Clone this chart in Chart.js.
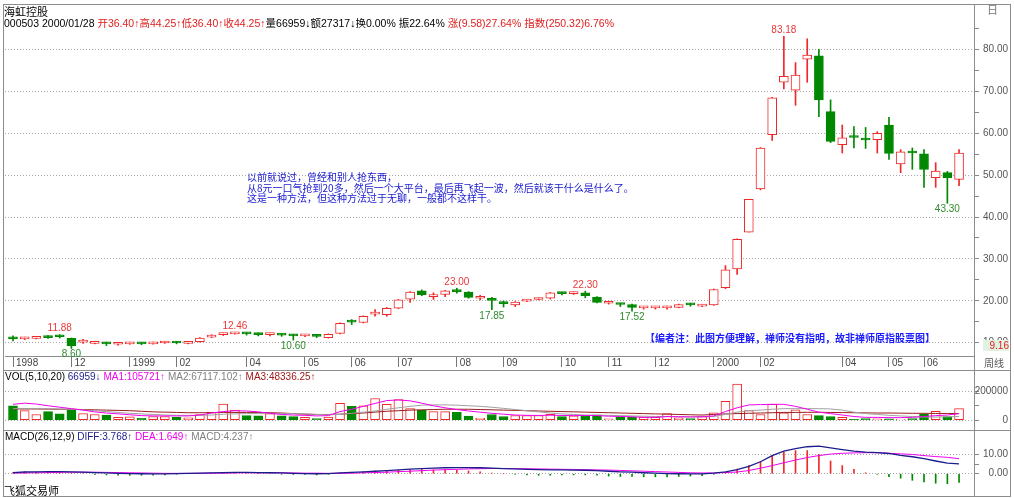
<!DOCTYPE html>
<html>
<head>
<meta charset="utf-8">
<script src="https://cdn.jsdelivr.net/npm/chart.js@4.4.0/dist/chart.umd.min.js"></script>
<style>
body{margin:0;background:#fff;width:1014px;height:498px;overflow:hidden;position:relative;
  font-family:'Liberation Sans','Noto Sans CJK SC',sans-serif;}
canvas{position:absolute;left:0;}
.t{position:absolute;white-space:nowrap;font-size:10px;line-height:12px;color:#000;}
.ln{position:absolute;background:#8c8c8c;}
.r{color:#e02020}
.nv{color:#1c1c8c}
.mg{color:#f000f0}
.gy{color:#808080}
.dr{color:#a01818}
.note{position:absolute;white-space:nowrap;font-family:'Noto Sans CJK SC',sans-serif;font-size:10px;line-height:10.5px;color:#1a1ad0;}
</style>
</head>
<body>
<canvas id="price" width="1014" height="370" style="top:0"></canvas>
<canvas id="vol" width="1014" height="60" style="top:370px"></canvas>
<canvas id="macd" width="1014" height="68" style="top:430px"></canvas>

<div class="ln" style="left:3px;top:4px;width:1008px;height:1px"></div>
<div class="ln" style="left:3px;top:4px;width:1px;height:492px"></div>
<div class="ln" style="left:1010px;top:4px;width:1px;height:492px"></div>
<div class="ln" style="left:3px;top:496px;width:1008px;height:1px"></div>
<div class="ln" style="left:974px;top:4px;width:1px;height:492px"></div>
<div class="ln" style="left:3px;top:370px;width:1008px;height:1px"></div>
<div class="ln" style="left:3px;top:430px;width:1008px;height:1px"></div>

<div class="t" style="left:4px;top:5px;font-family:'Noto Sans CJK SC';font-size:11px">海虹控股</div>
<div class="t" style="left:4px;top:17px;font-size:10.5px">000503 2000/01/28 <span class="r">开36.40↑高44.25↑低36.40↑收44.25↑</span>量66959↓额27317↓换0.00% 振22.64% <span class="r">涨(9.58)27.64% 指数(250.32)6.76%</span></div>
<div class="t" style="left:987px;top:3px;color:#777;font-family:'Noto Sans CJK SC';font-size:11px">日</div>
<div class="t" style="left:983px;top:340px;width:26px;height:11px;line-height:11px;background:#e2f2e2;color:#e02020;text-align:right">9.16</div>
<div class="t" style="left:984px;top:357px;color:#555;font-family:'Noto Sans CJK SC'">周线</div>

<div class="note" style="left:247px;top:172px">以前就说过，曾经和别人抢东西，<br>从8元一口气抢到20多，然后一个大平台，最后再飞起一波，然后就该干什么是什么了。<br>这是一种方法，但这种方法过于无聊，一般都不这样干。</div>
<div class="note" style="left:645px;top:333px;font-weight:bold;color:#1a1aff">【编者注：此图方便理解，禅师没有指明，故非禅师原指股票图】</div>

<div class="t" style="left:5px;top:371px">VOL(5,10,20) <span class="nv">66959↓</span> <span class="mg">MA1:105721↑</span> <span class="gy">MA2:67117.102↑</span> <span class="dr">MA3:48336.25↑</span></div>
<div class="t" style="left:5px;top:431px">MACD(26,12,9) <span class="nv">DIFF:3.768↑</span> <span class="mg">DEA:1.649↑</span> <span class="gy">MACD:4.237↑</span></div>
<div class="t" style="left:4px;top:484px;font-family:'Noto Sans CJK SC';font-size:11px">飞狐交易师</div>

<script>
// weekly bars, 1998 -> 2000/06
var openP = [11.4,10.9,11.0,11.4,11.6,11.0,10.1,9.8,10.0,9.6,
  9.7,9.9,9.7,9.9,10.2,9.8,10.2,11.3,11.9,12.1,
  12.3,12.1,11.9,12.0,11.8,11.6,11.7,11.2,12.2,15.2,
  14.8,16.8,16.7,18.2,20.4,22.4,21.0,21.5,22.4,22.1,
  20.6,20.6,19.7,19.0,19.9,20.3,20.6,21.9,21.7,21.9,
  20.9,19.4,19.3,19.1,18.3,18.3,18.3,18.4,19.2,18.7,
  19.0,23.1,27.6,36.4,46.7,59.7,72.2,70.3,77.7,78.5,
  65.2,57.3,59.3,58.6,58.5,62.0,52.7,55.6,55.1,49.4,
  50.6,49.0];
var highP = [11.6,11.3,11.5,11.7,11.88,11.1,10.8,10.2,10.1,10.0,
  10.1,10.0,10.1,10.3,10.3,10.1,11.2,11.9,12.3,12.46,
  12.4,12.3,12.3,12.2,12.0,12.0,11.9,12.1,14.7,15.5,
  16.4,17.9,18.4,20.3,22.2,22.6,21.9,22.5,23.0,22.2,
  21.3,20.8,19.9,19.8,20.3,20.6,22.0,22.0,22.1,22.3,
  21.0,19.7,19.4,19.2,18.6,18.6,18.7,19.2,19.4,19.1,
  22.8,28.4,34.8,44.25,56.6,68.6,83.18,76.9,82.6,80.1,
  68.0,62.0,61.6,61.4,60.4,63.8,56.1,56.5,56.1,53.0,
  50.9,56.1];
var lowP = [10.4,10.7,10.9,11.0,11.1,8.6,9.8,9.7,9.3,9.4,
  9.6,9.5,9.6,9.8,9.7,9.7,10.1,11.2,11.7,12.0,
  11.8,11.6,11.6,11.5,10.6,11.4,11.2,11.1,12.1,14.3,
  14.7,16.3,16.3,18.1,19.6,21.2,20.3,21.0,21.8,20.6,
  20.2,17.85,18.5,18.6,19.8,20.2,20.4,21.4,21.5,20.7,
  19.5,19.2,18.6,17.52,18.0,18.0,18.0,18.3,18.7,18.6,
  18.9,22.9,26.3,36.4,46.5,58.3,70.6,66.7,72.2,64.0,
  57.8,55.3,56.5,56.4,55.3,53.8,50.6,51.4,47.1,47.1,
  43.3,47.5];
var closeP = [10.9,11.1,11.3,11.2,11.4,9.2,10.3,10.1,9.7,9.8,
  9.9,9.7,9.9,10.1,9.9,10.0,11.1,11.7,12.1,12.4,
  12.1,11.9,12.0,11.8,11.6,11.8,11.5,12.0,14.6,14.9,
  16.3,17.3,18.2,20.2,22.1,21.4,21.4,22.4,22.2,20.8,
  21.0,20.1,19.3,19.7,20.1,20.5,21.9,21.7,21.9,21.2,
  19.6,19.5,19.1,18.4,18.4,18.4,18.4,19.1,19.0,18.9,
  22.7,27.4,34.7,44.25,56.5,68.5,73.6,73.9,78.7,68.0,
  58.1,58.9,59.0,58.4,60.0,55.2,55.6,55.3,51.4,51.0,
  49.4,55.3];

var volume = [100000,66000,40000,60000,44000,72000,46000,40000,36000,20000,
  24000,14000,26000,26000,20000,16000,40000,56000,112000,70000,
  32000,30000,46000,30000,26000,20000,12000,22000,116000,96000,
  100000,150000,110000,142000,80000,70000,60000,60000,55000,28000,
  15000,40000,26000,33000,33000,33000,41000,26000,30000,33000,
  37000,10000,20000,20000,20000,20000,46000,16000,12000,26000,
  52000,130000,250000,66959,40000,110000,52000,72000,40000,32000,
  26000,20000,6000,12000,10000,10000,6000,12000,42000,62000,
  26000,80000];
var volMA1 = [110000,118000,112000,100000,90000,80000,70000,58000,50000,44000,
  38000,32000,30000,30000,30000,30000,36000,50000,60000,66000,
  64000,58000,48000,40000,36000,34000,30000,32000,60000,76000,
  96000,116000,136000,140000,134000,118000,100000,86000,74000,64000,
  56000,48000,42000,36000,34000,33000,35000,33000,32000,33000,
  32000,28000,26000,24000,20000,20000,25000,24000,23000,24000,
  30000,60000,86000,105721,108000,110000,110000,96000,76000,56000,
  46000,36000,26000,20000,20000,18000,18000,20000,26000,32000,
  36000,46000];
var volMA2 = [80000,80000,80000,80000,78000,76000,72000,66000,60000,54000,
  48000,44000,40000,36000,34000,34000,34000,36000,42000,44000,
  46000,46000,46000,46000,46000,44000,40000,38000,40000,48000,
  56000,64000,76000,86000,96000,104000,106000,106000,104000,100000,
  96000,90000,82000,74000,66000,58000,50000,44000,40000,36000,
  34000,34000,32000,30000,28000,26000,26000,25000,24000,24000,
  26000,40000,56000,67117,70000,76000,80000,80000,80000,80000,
  78000,70000,56000,46000,40000,34000,30000,26000,22000,22000,
  24000,26000];
var volMA3 = [78000,78000,78000,77000,76000,76000,74000,72000,70000,68000,
  66000,62000,58000,56000,54000,52000,52000,52000,54000,54000,
  54000,54000,52000,50000,46000,42000,40000,40000,42000,46000,
  50000,56000,62000,66000,70000,72000,74000,76000,76000,76000,
  74000,72000,70000,68000,66000,64000,62000,60000,58000,56000,
  54000,52000,50000,48000,46000,44000,42000,40000,38000,36000,
  40000,44000,46000,48336,50000,52000,54000,54000,55000,55000,
  54000,53000,52000,51000,50000,50000,49000,48000,48000,47000,
  47000,46000];

var diffLine = [0.6,0.9,1.0,1.1,1.1,1.0,0.8,0.6,0.4,0.2,
  0.1,0.0,-0.1,-0.1,0.1,0.2,0.3,0.4,0.6,0.7,
  0.7,0.6,0.5,0.4,0.2,0.1,0.0,0.1,0.4,0.7,
  1.0,1.3,1.6,2.0,2.4,2.7,2.9,3.1,3.2,3.2,
  3.1,2.9,2.7,2.5,2.3,2.1,2.0,2.0,1.9,1.8,
  1.6,1.3,1.0,0.8,0.5,0.3,0.1,0.0,-0.1,-0.1,
  0.3,1.0,2.1,3.768,6.2,9.4,11.7,13.0,14.0,14.3,
  13.4,12.5,11.7,11.2,10.9,10.5,9.5,8.8,7.8,6.6,
  5.5,5.1];
var deaLine = [0.3,0.4,0.5,0.6,0.7,0.8,0.8,0.8,0.7,0.6,
  0.5,0.4,0.3,0.2,0.2,0.2,0.2,0.3,0.3,0.4,
  0.5,0.5,0.5,0.5,0.4,0.3,0.3,0.2,0.2,0.3,
  0.5,0.6,0.8,1.1,1.3,1.6,1.9,2.1,2.3,2.5,
  2.6,2.7,2.7,2.6,2.6,2.5,2.4,2.3,2.2,2.1,
  2.0,1.9,1.7,1.5,1.3,1.1,0.9,0.7,0.5,0.4,
  0.4,0.6,0.9,1.649,2.9,4.2,5.7,7.1,8.4,9.4,
  10.2,10.6,10.8,10.9,10.9,10.6,10.3,10.0,9.4,8.9,
  8.5,7.8];
var macdBar = [0.6,1.0,1.0,1.0,0.8,0.4,0.0,-0.4,-0.6,-0.8,
  -0.8,-0.8,-0.8,-0.6,-0.2,0.0,0.2,0.2,0.6,0.6,
  0.4,0.2,0.0,-0.2,-0.4,-0.4,-0.6,-0.2,0.4,0.8,
  1.0,1.4,1.6,1.8,2.2,2.2,2.0,2.0,1.8,1.4,
  1.0,0.4,0.0,-0.2,-0.6,-0.8,-0.8,-0.6,-0.6,-0.6,
  -0.8,-1.2,-1.4,-1.4,-1.6,-1.6,-1.6,-1.4,-1.2,-1.0,
  -0.2,0.8,2.4,4.237,6.2,9.4,11.2,12.0,12.0,10.0,
  6.6,4.2,2.3,0.5,-0.3,-1.5,-2.3,-3.4,-4.2,-4.9,
  -5.2,-4.5];

var monthTicks = [0,5,10,14,20,25,29,33,38,42,47,51,55,60,64,71,75,78];
var monthLabels = ['1998','12','1999','02','04','05','06','07','08','09','10','11','12','2000','02','04','05','06'];
var priceTicks = [10,15,20,25,30,35,40,45,50,55,60,65,70,75,80,85];

// marked highs / lows
var markIdx = [4,5,19,24,38,41,49,53,66,80];
var markSide = ['H','L','H','L','H','L','H','L','H','L'];

var RED = '#f02828', GREEN = '#008800';
var X_MIN = -0.685, X_MAX = 82.28;
var idx = openP.map((v, i) => i);
var isUp = idx.map(i => closeP[i] >= openP[i]);

var axisFont = {family: 'Liberation Sans', size: 10};

function rightAxis(min, max, tickVals, labelFn, gridFn) {
    return {
        position: 'right', min: min, max: max,
        afterBuildTicks: s => { s.ticks = tickVals.map(v => ({value: v})) },
        afterFit: s => { s.width = 34 },
        ticks: { autoSkip: false, callback: labelFn, crossAlign: 'far', padding: 2, color: '#555', font: axisFont },
        grid: { color: c => (c.tick && gridFn(c.tick.value)) ? '#a8a8a8' : 'rgba(0,0,0,0)', tickColor: '#888', tickLength: 5, tickBorderDash: [], lineWidth: 1 },
        border: { display: false, dash: [1, 2] }
    };
}

function hiddenX() {
    return { type: 'linear', min: X_MIN, max: X_MAX, offset: false, display: false };
}

var baseOpts = {
    responsive: false,
    animation: false,
    devicePixelRatio: 1,
    plugins: { legend: { display: false }, tooltip: { enabled: false } }
};

var hiLoLabels = {
    id: 'hiLoLabels',
    afterDatasetsDraw(chart) {
        const ctx = chart.ctx, x = chart.scales.x, y = chart.scales.y;
        ctx.save();
        ctx.font = '10px "Liberation Sans"';
        ctx.textAlign = 'center';
        ctx.textBaseline = 'middle';
        markIdx.forEach((i, k) => {
            const hi = markSide[k] === 'H';
            const v = hi ? highP[i] : lowP[i];
            ctx.fillStyle = hi ? '#e83838' : '#2e8b2e';
            ctx.fillText(v.toFixed(2), x.getPixelForValue(i), y.getPixelForValue(v) + (hi ? -6 : 6));
        });
        ctx.restore();
    }
};

// price (candles)
new Chart(document.getElementById('price'), {
    type: 'bar',
    data: {
        datasets: [
            {
                label: 'wick',
                data: idx.map(i => ({x: i, y: [lowP[i], highP[i]]})),
                backgroundColor: idx.map(i => isUp[i] ? RED : GREEN),
                barThickness: 1, grouped: false, order: 2
            },
            {
                label: 'body',
                data: idx.map(i => ({x: i, y: [openP[i], closeP[i]]})),
                backgroundColor: idx.map(i => isUp[i] ? '#ffffff' : GREEN),
                borderColor: idx.map(i => isUp[i] ? RED : GREEN),
                borderWidth: 1, borderSkipped: false,
                barThickness: 9, minBarLength: 2, grouped: false, order: 1
            }
        ]
    },
    options: Object.assign({}, baseOpts, {
        layout: { padding: { left: 5, top: 5, right: 6, bottom: 0 } },
        scales: {
            x: {
                type: 'linear', min: X_MIN, max: X_MAX, offset: false,
                afterBuildTicks: s => { s.ticks = monthTicks.map(v => ({value: v})) },
                afterFit: s => { s.height = 14 },
                ticks: { autoSkip: false, maxRotation: 0, align: 'start', labelOffset: 3, padding: -10,
                         callback: (v, i) => monthLabels[i], color: '#444', font: axisFont },
                grid: { drawOnChartArea: false, drawTicks: true, tickLength: 11, tickColor: '#777', offset: false },
                border: { display: true, color: '#8c8c8c' }
            },
            y: rightAxis(6.8, 89.95, priceTicks,
                v => (v % 10 === 0 && v <= 80) ? v.toFixed(2) : '',
                v => v % 10 === 0)
        }
    }),
    plugins: [hiLoLabels]
});

// volume
new Chart(document.getElementById('vol'), {
    type: 'bar',
    data: {
        datasets: [
            { type: 'line', data: idx.map(i => ({x: i, y: volMA1[i]})), borderColor: '#f000f0', borderWidth: 1, pointRadius: 0, order: 0 },
            { type: 'line', data: idx.map(i => ({x: i, y: volMA2[i]})), borderColor: '#a0a0a0', borderWidth: 1, pointRadius: 0, order: 0 },
            { type: 'line', data: idx.map(i => ({x: i, y: volMA3[i]})), borderColor: '#9a1c1c', borderWidth: 1, pointRadius: 0, order: 0 },
            {
                data: idx.map(i => ({x: i, y: volume[i]})),
                backgroundColor: idx.map(i => isUp[i] ? '#ffffff' : GREEN),
                borderColor: idx.map(i => isUp[i] ? RED : GREEN),
                borderWidth: 1, borderSkipped: false, barThickness: 9, order: 1
            }
        ]
    },
    options: Object.assign({}, baseOpts, {
        layout: { padding: { left: 5, top: 12, right: 6, bottom: 2 } },
        scales: {
            x: hiddenX(),
            y: rightAxis(-12000, 264000, [0, 100000, 200000],
                v => v === 100000 ? '' : String(v),
                v => v !== 100000)
        }
    })
});

// macd
new Chart(document.getElementById('macd'), {
    type: 'bar',
    data: {
        datasets: [
            { type: 'line', data: idx.map(i => ({x: i, y: diffLine[i]})), borderColor: '#1c1c8c', borderWidth: 1.3, pointRadius: 0, order: 0 },
            { type: 'line', data: idx.map(i => ({x: i, y: deaLine[i]})), borderColor: '#f000f0', borderWidth: 1, pointRadius: 0, order: 0 },
            {
                data: idx.map(i => ({x: i, y: macdBar[i]})),
                backgroundColor: idx.map(i => macdBar[i] >= 0 ? RED : GREEN),
                barThickness: 1, order: 1
            }
        ]
    },
    options: Object.assign({}, baseOpts, {
        layout: { padding: { left: 5, top: 12, right: 6, bottom: 2 } },
        scales: {
            x: hiddenX(),
            y: rightAxis(-8.43, 16.45, [0, 5, 10],
                v => v === 5 ? '' : v.toFixed(2),
                v => v !== 5)
        }
    })
});
</script>
</body>
</html>
